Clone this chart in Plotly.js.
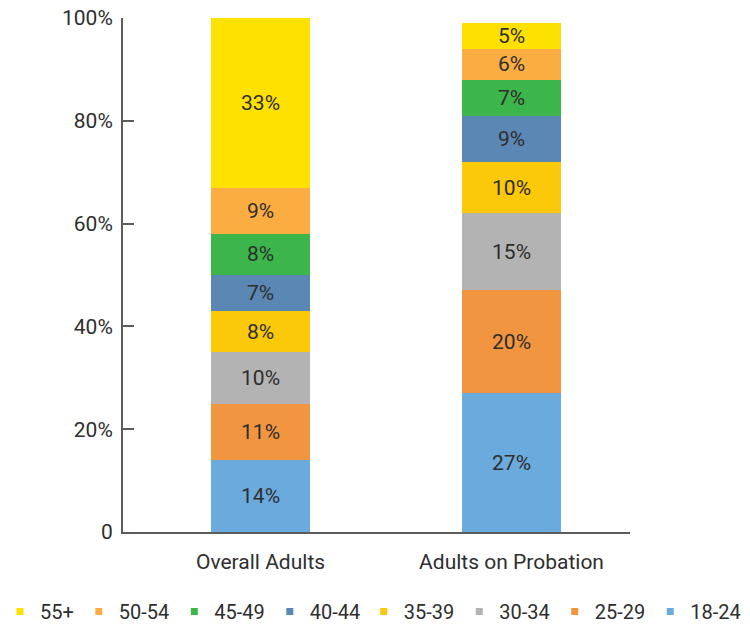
<!DOCTYPE html>
<html>
<head>
<meta charset="utf-8">
<script src="https://cdn.plot.ly/plotly-3.0.1.min.js"></script>
<style>
  html, body { margin: 0; padding: 0; background: #fff; }
  #chart { width: 750px; height: 624px; }
</style>
</head>
<body>
<div id="chart"></div>
<script>
// Population groups on the x axis
const groups = ['Overall Adults', 'Adults on Probation'];

// Age bands, bottom of the stack first
const ageBands = ['18-24', '25-29', '30-34', '35-39', '40-44', '45-49', '50-54', '55+'];

// Share of each group (%) per age band
const share18to24 = [14, 27];
const share25to29 = [11, 20];
const share30to34 = [10, 15];
const share35to39 = [8, 10];
const share40to44 = [7, 9];
const share45to49 = [8, 7];
const share50to54 = [9, 6];
const share55plus = [33, 5];

// Y axis ticks
const yTickVals = [0, 20, 40, 60, 80, 100];
const yTickText = ['0', '20%', '40%', '60%', '80%', '100%'];

const bandValues = [share18to24, share25to29, share30to34, share35to39,
                    share40to44, share45to49, share50to54, share55plus];
const bandColors = ['#6BAADD', '#F29540', '#B3B3B3', '#FCC80A',
                    '#5A87B3', '#3CB54A', '#FBAD42', '#FFE100'];

const FONT = 'Roboto, "Liberation Sans", Arial, sans-serif';
const TEXT = '#2e2e2e';
const SIZE = 21;

const traces = [];
ageBands.forEach((band, i) => {
  traces.push({
    type: 'bar',
    name: band,
    legendgroup: band,
    showlegend: false,
    x: groups,
    y: bandValues[i],
    width: 0.394,
    marker: { color: bandColors[i], line: { width: 0 } },
    text: bandValues[i].map(v => v + '%'),
    texttemplate: '%{text}',
    textposition: 'inside',
    insidetextanchor: 'middle',
    textangle: 0,
    textfont: { family: FONT, size: SIZE, color: TEXT },
    hoverinfo: 'skip'
  });
});
// Legend entries with small square swatches; the older bands (35+) sit in
// the left-hand legend, the younger ones in the right-hand one
ageBands.forEach((band, i) => {
  traces.push({
    type: 'scatter',
    mode: 'markers',
    name: band,
    legendgroup: band,
    legend: i >= 4 ? 'legend' : 'legend2',
    x: [null],
    y: [null],
    marker: { symbol: 'square', size: 7, color: bandColors[i] },
    hoverinfo: 'skip'
  });
});

const legendBase = {
  orientation: 'h',
  traceorder: 'reversed',
  xref: 'container',
  yref: 'container',
  xanchor: 'left',
  y: 0.02,
  yanchor: 'middle',
  bgcolor: 'rgba(0,0,0,0)',
  font: { family: FONT, size: 20, color: TEXT },
  itemclick: false,
  itemdoubleclick: false
};

const layout = {
  width: 750,
  height: 624,
  margin: { l: 123, r: 120, t: 18, b: 92 },
  paper_bgcolor: '#ffffff',
  plot_bgcolor: '#ffffff',
  barmode: 'stack',
  showlegend: true,
  uniformtext: { mode: 'show', minsize: SIZE },
  font: { family: FONT, color: TEXT, size: SIZE },
  xaxis: {
    type: 'category',
    range: [-0.548, 1.472],
    showgrid: false,
    zeroline: false,
    showline: true,
    linecolor: '#5c5c5c',
    linewidth: 2,
    ticks: '',
    ticklabelstandoff: 10,
    tickfont: { family: FONT, size: SIZE, color: TEXT },
    fixedrange: true
  },
  yaxis: {
    range: [0, 100],
    showgrid: false,
    zeroline: false,
    showline: true,
    linecolor: '#5c5c5c',
    linewidth: 2,
    ticks: 'inside',
    ticklen: 11,
    tickwidth: 2,
    tickcolor: '#5c5c5c',
    tickvals: yTickVals,
    ticktext: yTickText,
    ticklabelstandoff: 4,
    tickfont: { family: FONT, size: SIZE, color: TEXT },
    fixedrange: true
  },
  legend: Object.assign({}, legendBase, { x: -0.006 }),
  legend2: Object.assign({}, legendBase, { x: 0.485 })
};

Plotly.newPlot('chart', traces, layout, { displayModeBar: false, staticPlot: true });
</script>
</body>
</html>
